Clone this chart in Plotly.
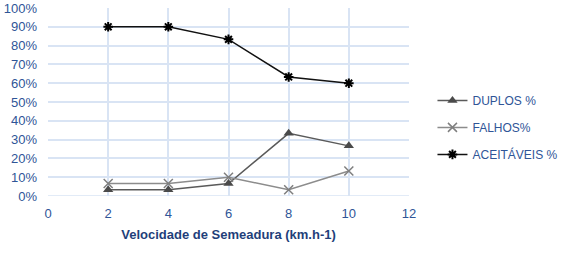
import plotly.graph_objects as go

velocidade = [2, 4, 6, 8, 10]
duplos = [3.33, 3.33, 6.67, 33.33, 26.67]
falhos = [6.67, 6.67, 10.0, 3.33, 13.33]
aceitaveis = [90.0, 90.0, 83.33, 63.33, 60.0]

x_ticks = [0, 2, 4, 6, 8, 10, 12]
y_ticks = [0, 10, 20, 30, 40, 50, 60, 70, 80, 90, 100]
y_labels = [f"{v}%" for v in y_ticks]

blue = "#2F5597"
grid = "#D9E4F4"

fig = go.Figure()
fig.add_trace(go.Scatter(x=velocidade, y=duplos, name="DUPLOS %", mode="lines+markers",
                         line=dict(color="#5A5A5A", width=1.5),
                         marker=dict(symbol="triangle-up", size=9, color="#4A4A4A"),
                         legendgroup="a"))
fig.add_trace(go.Scatter(x=velocidade, y=falhos, name="FALHOS%", mode="lines+markers",
                         line=dict(color="#8C8C8C", width=1.5),
                         marker=dict(symbol="x-thin-open", size=9, color="#7F7F7F",
                                     line=dict(width=1.5, color="#7F7F7F")),
                         legendgroup="b"))
fig.add_trace(go.Scatter(x=velocidade, y=aceitaveis, name="ACEITÁVEIS %", mode="lines+markers",
                         line=dict(color="#111111", width=1.5),
                         marker=dict(symbol="asterisk-open", size=8, color="#000000",
                                     line=dict(width=2, color="#000000")),
                         legendgroup="c"))

fig.update_layout(
    width=567, height=269,
    margin=dict(l=48, r=158, t=8, b=73, autoexpand=False),
    paper_bgcolor="white", plot_bgcolor="white",
    font=dict(family="Liberation Sans, Arial", size=12, color=blue),
    showlegend=True,
    legend=dict(x=1.065, y=0.365, yanchor="middle", xanchor="left",
                font=dict(size=12, color=blue), traceorder="grouped",
                tracegroupgap=8, bgcolor="rgba(0,0,0,0)"),
    xaxis=dict(range=[0, 12], tickvals=x_ticks, ticktext=[str(v) for v in x_ticks],
               showgrid=True, gridcolor=grid, gridwidth=1.5, zeroline=False,
               showline=False, ticks="", ticklabelstandoff=8, automargin=False,
               tickfont=dict(size=13, color=blue),
               title=dict(text="<b>Velocidade de Semeadura (km.h-1)</b>",
                          font=dict(size=13, color="#1F3F7A"), standoff=9)),
    yaxis=dict(range=[0, 100], tickvals=y_ticks, ticktext=y_labels,
               showgrid=True, gridcolor=grid, gridwidth=1.5, zeroline=False,
               showline=False, ticks="", ticklabelstandoff=10, automargin=False,
               tickfont=dict(size=13, color=blue)),
)
fig.add_shape(type="line", xref="x", yref="y", x0=0, x1=12, y0=0, y1=0,
              line=dict(color=grid, width=1.5))
fig.write_html("out.html")
